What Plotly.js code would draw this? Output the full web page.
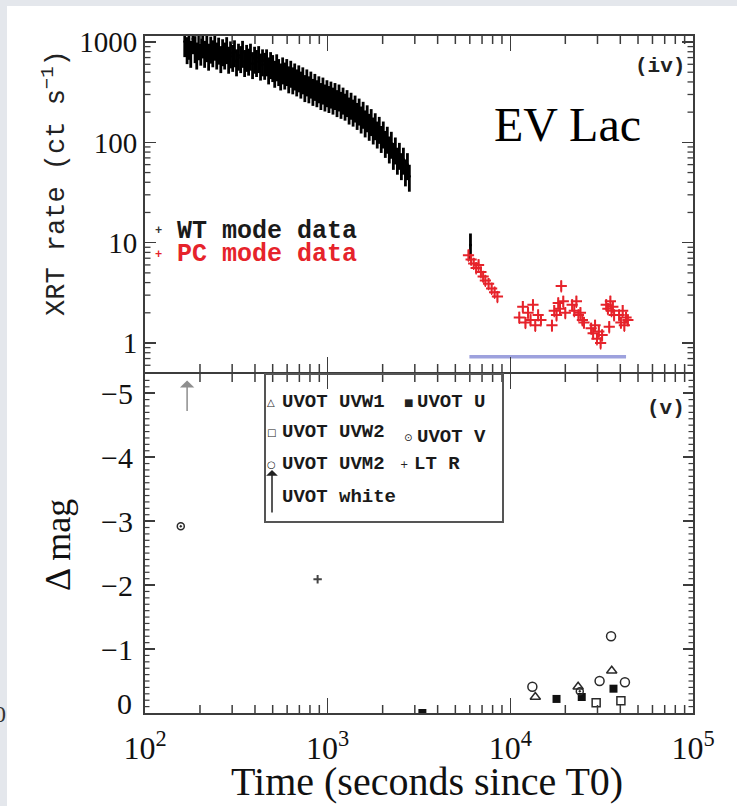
<!DOCTYPE html>
<html>
<head>
<meta charset="utf-8">
<script src="https://cdn.plot.ly/plotly-3.0.1.min.js"></script>
<style>
  html, body { margin: 0; padding: 0; background: #e4e7ec; }
  #chart { width: 737px; height: 806px; }
</style>
</head>
<body>
<div id="chart"></div>
<script>
// ---- XRT light curve: WT mode (time in s since T0, count rate in ct/s) ----
const wtTime = [165,170,174,178,183,188,192,197,202,207,212,218,223,229,235,241,247,253,260,266,
  273,280,287,294,302,309,317,325,334,342,351,360,369,378,388,398,408,419,429,440,
  452,463,475,487,500,513,526,539,553,567,582,597,612,628,644,660,677,695,713,731,
  750,769,789,809,830,851,873,895,918,942,966,991,1016,1042,1069,1097,1125,1154,1183,1214,
  1245,1277,1310,1343,1378,1413,1450,1487,1525,1564,1604,1646,1688,1731,1776,1821,1868,1916,1965,2016,
  2068,2121,2175,2231,2289,2347,2408,2470,2533,2598,2665,2733,2800,6050];
const wtRate = [1010,860,950,790,1080,880,760,940,830,980,790,900,740,870,800,930,760,850,700,820,
  760,860,690,780,720,800,650,740,700,790,640,720,660,740,610,690,640,700,590,650,
  600,650,540,610,570,500,580,520,470,540,480,520,440,500,430,470,410,450,390,430,
  360,410,350,390,330,370,320,350,300,340,290,320,280,310,270,300,255,290,245,270,
  235,255,215,240,205,225,190,210,175,195,160,180,148,165,136,150,124,138,112,124,
  100,110,88,98,76,86,68,76,60,68,52,60,46,9.5];

// ---- XRT light curve: PC mode ----
const pcTime = [5900,6100,6300,6500,6700,6900,7100,7300,7600,7900,8200,8500,
  11200,11700,12100,12500,12900,13300,13700,14200,14700,
  16900,17400,17900,18300,18700,19000,19500,20000,
  21800,22400,23000,23600,24200,24800,25300,
  27700,28400,29100,29800,30500,31200,31800,
  33500,34200,34800,35300,35800,36400,37000,
  39400,40300,41200,42100,43000,44000];
const pcRate = [7.5,6.8,6.2,5.6,6.0,5.1,4.6,4.2,3.9,3.5,3.2,2.9,
  1.8,2.3,1.6,2.0,1.7,2.4,1.5,1.9,1.7,
  1.5,2.1,1.9,2.5,2.2,3.7,2.6,2.0,
  2.4,2.1,2.6,1.9,2.0,1.7,1.6,
  1.4,1.25,1.5,1.1,1.3,1.0,1.2,
  2.4,2.2,1.45,2.6,2.1,2.3,1.9,
  1.9,1.6,2.1,1.5,1.8,1.7];

// Interval bar drawn under the PC mode data
const barTime = [5970, 43000];
const barRate = [0.73, 0.73];

// ---- Optical / UV photometry (delta magnitude) ----
const uvw1Time = [13700, 23500, 35900];
const uvw1Mag  = [-0.25, -0.41, -0.66];
const uvw2Time = [29500, 40300];
const uvw2Mag  = [-0.16, -0.19];
const uvm2Time = [13200, 30800, 35600, 42400];
const uvm2Mag  = [-0.41, -0.50, -1.20, -0.48];
const uTime    = [3300, 17900, 24600, 36700];
const uMag     = [0.0, -0.22, -0.25, -0.38];
const vTime    = [157, 24000];
const vMag     = [-2.92, -0.34];
const ltrTime  = [881];
const ltrMag   = [-2.09];
// UVOT white limit: arrow from tail to tip
const whiteTime = [170];
const whiteTail = [-4.7];
const whiteTip  = [-5.2];

// ---- Axes ----
const timeRange = [2, 5];          // log10 seconds
const rateRange = [-0.289, 3.06];  // log10 ct/s
const magRange  = [0, -5.3];       // reversed: brighter upward
const xTickVals = [100, 1000, 10000, 100000];
const xTickText = ['10<sup>2</sup>', '10<sup>3</sup>', '10<sup>4</sup>', '10<sup>5</sup>'];
const rateTickVals = [1, 10, 100, 1000];
const rateTickText = ['1', '10', '100', '1000'];
const magTickVals = [-5, -4, -3, -2, -1];
const magTickText = ['\u22125', '\u22124', '\u22123', '\u22122', '\u22121'];

// minor tick positions
const xMinor = [], rateMinor = [], magMinor = [];
[100, 1000, 10000].forEach(d => { for (let k = 2; k <= 9; k++) xMinor.push(k * d); });
[0.1, 1, 10, 100].forEach(d => { for (let k = 2; k <= 9; k++) if (k * d > 0.52 && k * d < 1100) rateMinor.push(k * d); });
for (let k = 1; k <= 52; k++) if (k % 10) magMinor.push(-k / 10);

const SERIF = 'Liberation Serif, Times New Roman, serif';
const MONO = 'Liberation Mono, Courier New, monospace';
const AX = '#3c3c3c';
const RED = '#e6232b';
const MK = '#2a2a2a';

// plot area spans page x 145..693, y 36..713; helpers place text in paper units
const PX = x => (x - 145) / 548;
const PY = y => (713 - y) / 677;
const SPLIT = PY(374);          // lower panel top edge
const TOPLOW = PY(372);         // upper panel bottom edge (frame lines meet at the divider)

const traces = [
  { x: barTime, y: barRate, xaxis: 'x2', yaxis: 'y', mode: 'lines',
    line: { color: '#9da1dd', width: 3.5 }, hoverinfo: 'skip' },
  { x: wtTime, y: wtRate, xaxis: 'x2', yaxis: 'y', mode: 'markers',
    marker: { color: '#000', size: 3 },
    error_y: { type: 'percent', value: 30, color: '#000', thickness: 2.8, width: 0 } },
  { x: pcTime, y: pcRate, xaxis: 'x2', yaxis: 'y', mode: 'markers',
    marker: { symbol: 'cross-thin-open', size: 8, color: RED, line: { color: RED, width: 2 } },
    error_y: { type: 'percent', value: 14, color: RED, thickness: 1.3, width: 0 } },

  { x: uvw1Time, y: uvw1Mag, xaxis: 'x', yaxis: 'y2', mode: 'markers',
    marker: { symbol: 'triangle-up-open', size: 9, color: MK, line: { color: MK, width: 1.5 } } },
  { x: uvw2Time, y: uvw2Mag, xaxis: 'x', yaxis: 'y2', mode: 'markers',
    marker: { symbol: 'square-open', size: 8, color: MK, line: { color: MK, width: 1.5 } } },
  { x: uvm2Time, y: uvm2Mag, xaxis: 'x', yaxis: 'y2', mode: 'markers',
    marker: { symbol: 'circle-open', size: 9, color: MK, line: { color: MK, width: 1.5 } } },
  { x: uTime, y: uMag, xaxis: 'x', yaxis: 'y2', mode: 'markers',
    marker: { symbol: 'square', size: 8, color: '#111' } },
  { x: vTime, y: vMag, xaxis: 'x', yaxis: 'y2', mode: 'markers',
    marker: { symbol: 'circle-open-dot', size: 7, color: MK, line: { color: MK, width: 1.5 } } },
  { x: ltrTime, y: ltrMag, xaxis: 'x', yaxis: 'y2', mode: 'markers',
    marker: { symbol: 'cross-thin-open', size: 6, color: '#444', line: { color: '#444', width: 2 } } }
];

// Minor ticks: short inward segments from the frame edges.
const pxPerDecX = 548 / (timeRange[1] - timeRange[0]);
const pxPerDecRate = 336 / (rateRange[1] - rateRange[0]);
const pxPerMag = 339 / Math.abs(magRange[1] - magRange[0]);
function tickSegments(vals, along, fromEdge, toEdge) {
  const a = [], b = [];
  vals.forEach(v => { a.push(v, v, null); b.push(fromEdge, toEdge, null); });
  return along === 'x' ? { x: a, y: b } : { x: b, y: a };
}
function addTicks(seg, xa, ya, w) {
  traces.push({ x: seg.x, y: seg.y, xaxis: xa, yaxis: ya, mode: 'lines', hoverinfo: 'skip',
    line: { color: AX, width: w } });
}
const rateLo = Math.pow(10, rateRange[0]), rateHi = Math.pow(10, rateRange[1]);
const tLo = Math.pow(10, timeRange[0]), tHi = Math.pow(10, timeRange[1]);
const xLen = 8, rateLen = 5.5, magLen = 4.5;
const dRate = Math.pow(10, xLen / pxPerDecRate);
// time axis, upper panel: bottom and top edges
addTicks(tickSegments(xMinor, 'x', rateLo, rateLo * dRate), 'x2', 'y', 1.5);
addTicks(tickSegments(xMinor, 'x', rateHi, rateHi / dRate), 'x2', 'y', 1.5);
// time axis, lower panel
addTicks(tickSegments(xMinor, 'x', magRange[0], magRange[0] - xLen / pxPerMag), 'x', 'y2', 1.5);
addTicks(tickSegments(xMinor, 'x', magRange[1], magRange[1] + xLen / pxPerMag), 'x', 'y2', 1.5);
// rate axis, left and right
const dTr = Math.pow(10, rateLen / pxPerDecX), dTm = Math.pow(10, magLen / pxPerDecX);
addTicks(tickSegments(rateMinor, 'y', tLo, tLo * dTr), 'x2', 'y', 1.3);
addTicks(tickSegments(rateMinor, 'y', tHi, tHi / dTr), 'x2', 'y', 1.3);
// magnitude axis, left and right
addTicks(tickSegments(magMinor, 'y', tLo, tLo * dTm), 'x', 'y2', 1.2);
addTicks(tickSegments(magMinor, 'y', tHi, tHi / dTm), 'x', 'y2', 1.2);

const baseX = {
  type: 'log', range: timeRange, showgrid: false, zeroline: false,
  showline: true, linecolor: AX, linewidth: 2, mirror: 'ticks',
  ticks: 'inside', ticklen: 15, tickwidth: 1.6, tickcolor: AX,
  tickvals: xTickVals, ticktext: xTickText, ticklabelstandoff: 6,
  tickfont: { family: SERIF, size: 32, color: '#111' }
};

const annotations = [
  // UVOT white limit arrow
  { x: Math.log10(whiteTime[0]), y: whiteTip[0], xref: 'x', yref: 'y2',
    ax: Math.log10(whiteTime[0]), ay: whiteTail[0], axref: 'x', ayref: 'y2',
    text: '', showarrow: true, arrowhead: 1, arrowsize: 1.6, arrowwidth: 1.5, arrowcolor: '#8e8e8e' }
];

function label(x, y, text, font, extra) {
  annotations.push(Object.assign({ x: PX(x), y: PY(y), xref: 'paper', yref: 'paper',
    xanchor: 'center', yanchor: 'middle', text: text, showarrow: false, font: font }, extra || {}));
}

label(567, 125, 'EV Lac', { family: SERIF, size: 48, color: '#000' });
label(687, 66, '(iv)', { family: MONO, size: 21, color: '#222', weight: 'bold' }, { xanchor: 'right' });
label(687, 408, '(v)', { family: MONO, size: 21, color: '#222', weight: 'bold' }, { xanchor: 'right' });

// XRT legend
label(158, 231, '+', { family: MONO, size: 12, color: '#333', weight: 'bold' });
label(175, 231, 'WT mode data', { family: MONO, size: 25, color: '#1a1a1a', weight: 'bold' }, { xanchor: 'left' });
label(158, 255, '+', { family: MONO, size: 12, color: RED, weight: 'bold' });
label(175, 255, 'PC mode data', { family: MONO, size: 25, color: RED, weight: 'bold' }, { xanchor: 'left' });

// axis titles
label(55, 183, 'XRT rate (ct s<sup>\u22121</sup>)', { family: MONO, size: 27, color: '#222' }, { textangle: -90 });
label(58, 545, '\u0394 mag', { family: SERIF, size: 36, color: '#111' }, { textangle: -90 });
label(427, 781, 'Time (seconds since T0)', { family: SERIF, size: 40, color: '#111' });

// lowest magnitude label sits just above the corner
label(134, 703, '0', { family: SERIF, size: 30, color: '#111' }, { xanchor: 'right' });
// stray glyph at the left edge of the frame
label(0, 714, '0', { family: SERIF, size: 24, color: '#333' });

// photometry legend
const legFont = { family: MONO, size: 19, color: '#1a1a1a', weight: 'bold' };
const glyphFont = { family: 'DejaVu Sans, sans-serif', size: 10, color: '#222' };
const legRows = [
  ['\u25B3', 'UVOT UVW1', 271, 280, 402],
  ['\u25A1', 'UVOT UVW2', 271, 280, 432],
  ['\u25CB', 'UVOT UVM2', 271, 280, 464],
  ['', 'UVOT white', 271, 280, 497],
  ['\u25A0', 'UVOT U', 408, 415, 402],
  ['\u2299', 'UVOT V', 408, 415, 437],
  ['+', 'LT R', 404, 412, 464]
];
legRows.forEach(r => {
  if (r[0]) label(r[2], r[4], r[0], glyphFont);
  label(r[3], r[4], r[1], legFont, { xanchor: 'left' });
});
annotations.push({ x: PX(272), y: PY(470), xref: 'paper', yref: 'paper', ax: 0, ay: 44, text: '',
  showarrow: true, arrowhead: 1, arrowsize: 1.3, arrowwidth: 1.5, arrowcolor: '#222' });

const shapes = [
  // white sheet over the grey surround
  { type: 'rect', xref: 'paper', yref: 'paper', layer: 'below',
    x0: PX(7), x1: PX(745), y0: PY(815), y1: PY(6), fillcolor: '#ffffff', line: { width: 0 } },
  // photometry legend frame
  { type: 'rect', xref: 'paper', yref: 'paper',
    x0: PX(265), x1: PX(503), y0: PY(522), y1: SPLIT, line: { color: '#555', width: 2 } }
];

const layout = {
  width: 737, height: 806,
  margin: { l: 145, r: 44, t: 36, b: 93 },
  paper_bgcolor: '#e4e7ec', plot_bgcolor: '#ffffff',
  showlegend: false,
  xaxis: Object.assign({}, baseX, { anchor: 'y2', domain: [0, 1] }),
  xaxis2: Object.assign({}, baseX, { anchor: 'y', domain: [0, 1], showticklabels: false }),
  yaxis: {
    type: 'log', domain: [TOPLOW, 1], anchor: 'x2', range: rateRange,
    showgrid: false, zeroline: false, showline: true, linecolor: AX, linewidth: 2, mirror: 'ticks',
    ticks: 'inside', ticklen: 11, tickwidth: 1.6, tickcolor: AX,
    tickvals: rateTickVals, ticktext: rateTickText,
    tickfont: { family: SERIF, size: 29, color: '#111' }
  },
  yaxis2: {
    domain: [0, SPLIT], anchor: 'x', range: magRange,
    showgrid: false, zeroline: false, showline: true, linecolor: AX, linewidth: 2, mirror: 'ticks',
    ticks: 'inside', ticklen: 10, tickwidth: 1.6, tickcolor: AX,
    tickvals: magTickVals, ticktext: magTickText, ticklabelstandoff: 4,
    tickfont: { family: SERIF, size: 30, color: '#111' }
  },
  annotations: annotations,
  shapes: shapes
};

Plotly.newPlot('chart', traces, layout, { staticPlot: true, displayModeBar: false });
</script>
</body>
</html>
